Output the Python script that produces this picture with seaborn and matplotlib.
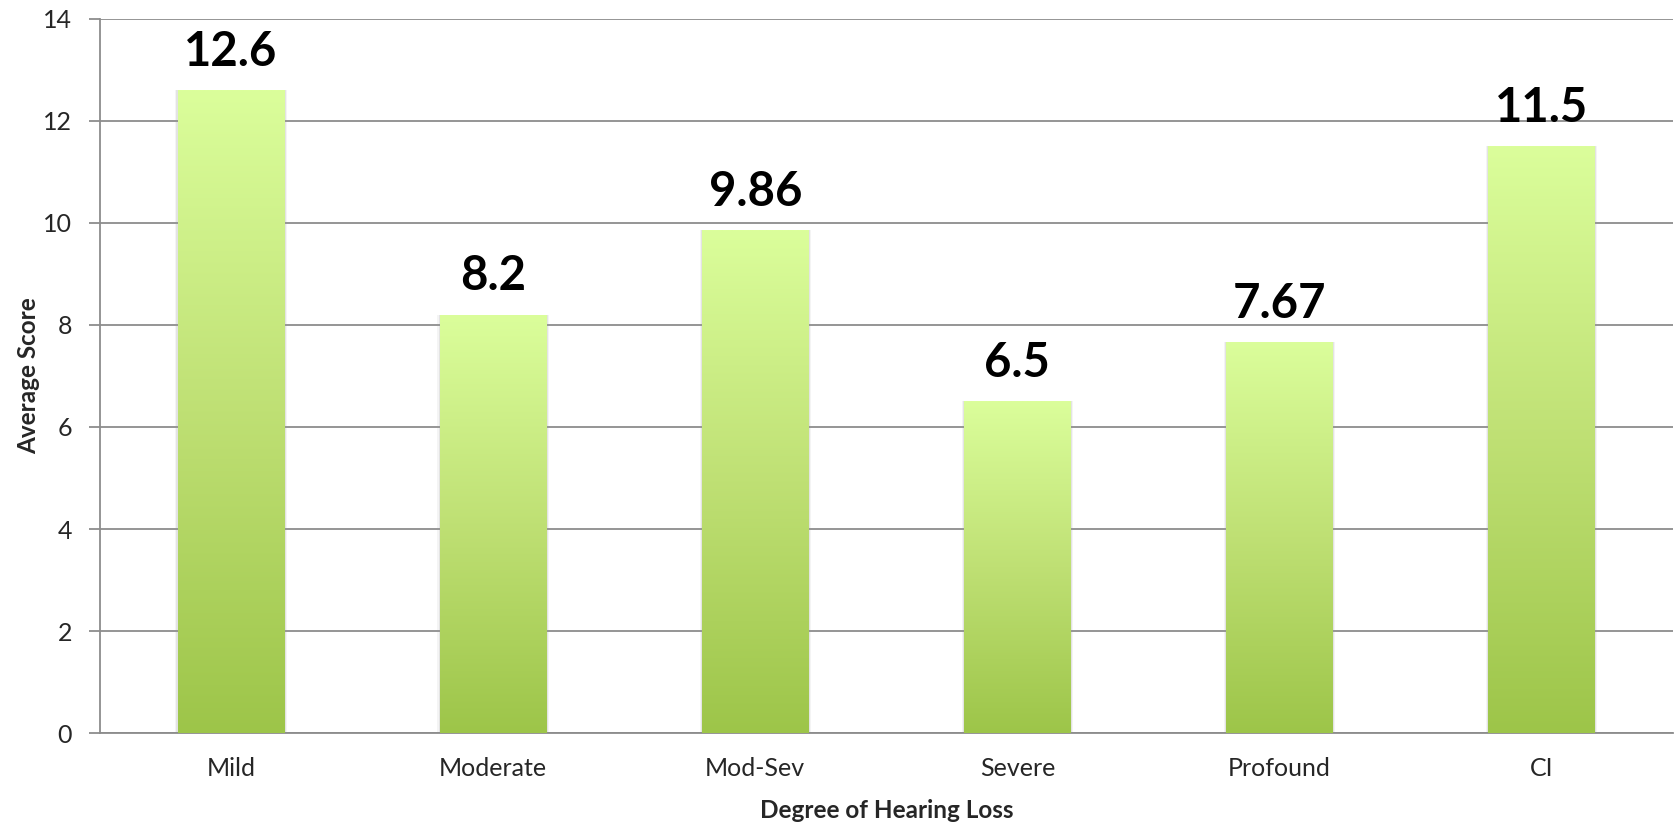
import numpy as np
import pandas as pd
import matplotlib
matplotlib.use("Agg")
import matplotlib.pyplot as plt
import seaborn as sns
from matplotlib.colors import LinearSegmentedColormap

categories = ["Mild", "Moderate", "Mod-Sev", "Severe", "Profound", "CI"]
scores = [12.6, 8.2, 9.86, 6.5, 7.67, 11.5]
labels = ["12.6", "8.2", "9.86", "6.5", "7.67", "11.5"]
yticks = [0, 2, 4, 6, 8, 10, 12, 14]

sns.set_theme(style="white")
plt.rcParams["font.family"] = ["Lato", "DejaVu Sans"]

fig = plt.figure(figsize=(16.81, 8.25), dpi=100)
ax = fig.add_axes([0.0595, 0.1115, 0.9355, 0.8655])

df = pd.DataFrame({"cat": categories, "score": scores})
sns.barplot(data=df, x="cat", y="score", ax=ax, width=0.405, color="#b5d86a",
            edgecolor="none", zorder=3)

cmap = LinearSegmentedColormap.from_list("g", ["#9dc549", "#bfe074", "#dbfe9b"])
grad = np.linspace(0, 1, 256).reshape(-1, 1)
for p in ax.patches[:]:
    x0, y0 = p.get_x(), p.get_y()
    w, h = p.get_width(), p.get_height()
    for k, a in enumerate([0.10, 0.18]):
        d = 0.010 - 0.004 * k
        ax.add_patch(plt.Rectangle((x0 - d, y0), w + 2 * d, h, color="#9a9a9a",
                                   alpha=a, zorder=2, lw=0))
    im = ax.imshow(grad, extent=[x0, x0 + w, y0, y0 + h], origin="lower",
                   cmap=cmap, aspect="auto", zorder=4)
    im.set_clip_path(p)

for i, (v, t) in enumerate(zip(scores, labels)):
    ax.text(i, v + 0.32, t, ha="center", va="bottom", fontsize=34,
            fontweight="bold", color="black", zorder=5)

ax.set_xlim(-0.5, 5.5)
ax.set_ylim(0, 14)
ax.set_yticks(yticks)
ax.set_yticklabels([str(t) for t in yticks], fontsize=18)
ax.yaxis.grid(True, color="#8c8c8c", linewidth=1.3, zorder=0)
ax.set_axisbelow(True)

ax.set_xticks(range(len(categories)))
ax.set_xticklabels(categories, fontsize=18)
ax.set_xticks(np.arange(-0.5, 6.0, 1.0), minor=True)
ax.tick_params(axis="x", which="major", length=0, pad=17)
ax.tick_params(axis="x", which="minor", length=8, width=1.3, color="#8c8c8c", direction="out")
ax.tick_params(axis="y", length=8, width=1.3, color="#8c8c8c", direction="out", pad=12, left=True)

for s in ["top", "right"]:
    ax.spines[s].set_visible(False)
for s in ["left", "bottom"]:
    ax.spines[s].set_color("#8c8c8c")
    ax.spines[s].set_linewidth(1.3)

ax.set_xlabel("Degree of Hearing Loss", fontsize=17.5, fontweight="bold")
ax.set_ylabel("Average Score", fontsize=17.5, fontweight="bold")
ax.xaxis.set_label_coords(0.5, -0.109)
ax.yaxis.set_label_coords(-0.0455, 0.5)
ax.xaxis.label.set_va("center")
ax.yaxis.label.set_va("center")

fig.savefig("out.png", dpi=100, facecolor="white")
